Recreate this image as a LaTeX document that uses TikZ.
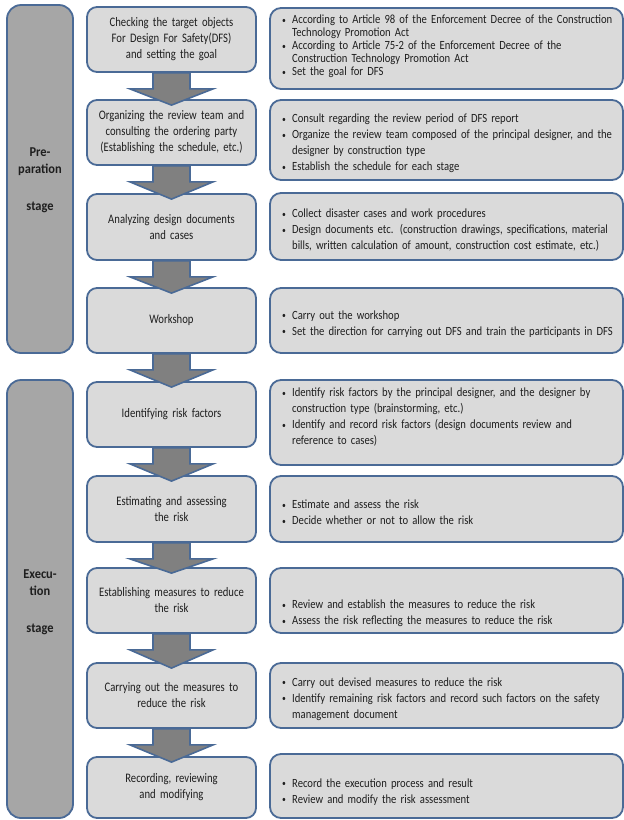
\documentclass[tikz,border=0pt]{standalone}
\usepackage{fontspec}
\setmainfont[FakeStretch=0.85]{Carlito}
\newfontfamily\midfont[FakeStretch=0.82]{Carlito}
\newfontfamily\stagefont[FakeStretch=0.92]{Carlito}
\usetikzlibrary{calc}
\hyphenpenalty=10000
\exhyphenpenalty=10000
\definecolor{edgeblue}{HTML}{4A6A96}
\definecolor{boxfill}{HTML}{DADADA}
\definecolor{stagefill}{HTML}{A6A6A6}
\definecolor{arrowfill}{HTML}{808080}
\definecolor{txt}{HTML}{1E1E1E}
\newcommand\bitem[1]{\par\hangindent=13pt\hangafter=1\noindent\makebox[13pt][l]{\hspace{3pt}\raisebox{0.5pt}{\fontsize{9}{9}\selectfont\textbullet}}#1\par}
\tikzset{
  mbox/.style={draw=edgeblue, line width=1.8pt, fill=boxfill, rounded corners=10pt,
    minimum width=169pt, text width=165pt, align=center, inner sep=0pt,
    font=\midfont\fontsize{13}{16}\selectfont, text=txt},
  rbox/.style={draw=edgeblue, line width=1.8pt, fill=boxfill, rounded corners=11pt,
    minimum width=353pt, inner sep=0pt},
  rtext/.style={anchor=west, text width=342pt, align=left, inner sep=0pt,
    font=\fontsize{12.5}{16}\selectfont, text=txt},
  stagebar/.style={draw=edgeblue, line width=1.8pt, fill=stagefill, rounded corners=14pt,
    minimum width=66pt, inner sep=0pt},
  stagelabel/.style={align=center, font=\stagefont\fontsize{13.5}{17}\selectfont\bfseries, text=txt},
  blockarrow/.style={draw=edgeblue, line width=1.6pt, fill=arrowfill, line join=miter}
}
\newcommand\barrow[2]{%
  \draw[blockarrow] ($(#1.south)+(-18.5,0)$) -- ($(#1.south)+(-18.5,16)$) -- ($(#1.south)+(-41.5,16)$)
   -- ($(#2.north)+(0,6)$) -- ($(#1.south)+(41.5,16)$) -- ($(#1.south)+(18.5,16)$)
   -- ($(#1.south)+(18.5,0)$) -- cycle;}
\begin{document}
\begin{tikzpicture}[x=1pt,y=-1pt]
\useasboundingbox (0,0) rectangle (624,820);
% stage bars
\node[stagebar, minimum height=348pt] (sp) at (40,179) {};
\node[stagebar, minimum height=438pt] (se) at (40,599) {};
\node[stagelabel] (lp) at (40,180) {Pre-\\paration\\[20pt]stage};
\node[stagelabel] (le) at (40,602) {Execu-\\tion\\[20pt]stage};
% middle boxes
\node[mbox, minimum height=65pt] (m1) at (171.5,39.5) {Checking the target objects\\For Design For Safety(DFS)\\and setting the goal};
\node[mbox, minimum height=65pt] (m2) at (171.5,132.5) {Organizing the review team and\\consulting the ordering party\\(Establishing the schedule, etc.)};
\node[mbox, minimum height=66pt] (m3) at (171.5,227) {Analyzing design documents\\and cases};
\node[mbox, minimum height=65pt] (m4) at (171.5,320.5) {Workshop};
\node[mbox, minimum height=65pt] (m5) at (171.5,414.5) {Identifying risk factors};
\node[mbox, minimum height=66pt] (m6) at (171.5,509) {Estimating and assessing\\the risk};
\node[mbox, minimum height=65pt] (m7) at (171.5,600.5) {Establishing measures to reduce\\the risk};
\node[mbox, minimum height=65pt] (m8) at (171.5,695.5) {Carrying out the measures to\\reduce the risk};
\node[mbox, minimum height=61pt] (m9) at (171.5,787.5) {Recording, reviewing\\and modifying};
% right boxes
\node[rbox, minimum height=81pt] (r1) at (446.5,48.5) {};
\node[rbox, minimum height=80pt] (r2) at (446.5,140) {};
\node[rbox, minimum height=67pt] (r3) at (446.5,226.5) {};
\node[rbox, minimum height=65pt] (r4) at (446.5,320.5) {};
\node[rbox, minimum height=85pt] (r5) at (446.5,422.5) {};
\node[rbox, minimum height=66pt] (r6) at (446.5,509) {};
\node[rbox, minimum height=65pt] (r7) at (446.5,600.5) {};
\node[rbox, minimum height=65pt] (r8) at (446.5,695.5) {};
\node[rbox, minimum height=64pt] (r9) at (446.5,786) {};
% right texts
\node[rtext, font=\fontsize{12.5}{13}\selectfont] (t1) at (279,44.5) {\bitem{According to Article 98 of the Enforcement Decree of the Construction\newline Technology Promotion Act}\bitem{According to Article 75-2 of the Enforcement Decree of the\newline Construction Technology Promotion Act}\bitem{Set the goal for DFS}};
\node[rtext] (t2) at (279,140) {\bitem{Consult regarding the review period of DFS report}\bitem{Organize the review team composed of the principal designer, and the\newline designer by construction type}\bitem{Establish the schedule for each stage}};
\node[rtext] (t3) at (279,226.5) {\bitem{Collect disaster cases and work procedures}\bitem{Design documents etc. (construction drawings, specifications, material\newline bills, written calculation of amount, construction cost estimate, etc.)}};
\node[rtext] (t4) at (279,320.5) {\bitem{Carry out the workshop}\bitem{Set the direction for carrying out DFS and train the participants in DFS}};
\node[rtext] (t5) at (279,413.5) {\bitem{Identify risk factors by the principal designer, and the designer by\newline construction type (brainstorming, etc.)}\bitem{Identify and record risk factors (design documents review and\newline reference to cases)}};
\node[rtext] (t6) at (279,509) {\bitem{Estimate and assess the risk}\bitem{Decide whether or not to allow the risk}};
\node[rtext] (t7) at (279,610) {\bitem{Review and establish the measures to reduce the risk}\bitem{Assess the risk reflecting the measures to reduce the risk}};
\node[rtext] (t8) at (279,695.5) {\bitem{Carry out devised measures to reduce the risk}\bitem{Identify remaining risk factors and record such factors on the safety\newline management document}};
\node[rtext] (t9) at (279,788) {\bitem{Record the execution process and result}\bitem{Review and modify the risk assessment}};
% arrows
\barrow{m1}{m2}
\barrow{m2}{m3}
\barrow{m3}{m4}
\barrow{m4}{m5}
\barrow{m5}{m6}
\barrow{m6}{m7}
\barrow{m7}{m8}
\barrow{m8}{m9}
\end{tikzpicture}
\end{document}
